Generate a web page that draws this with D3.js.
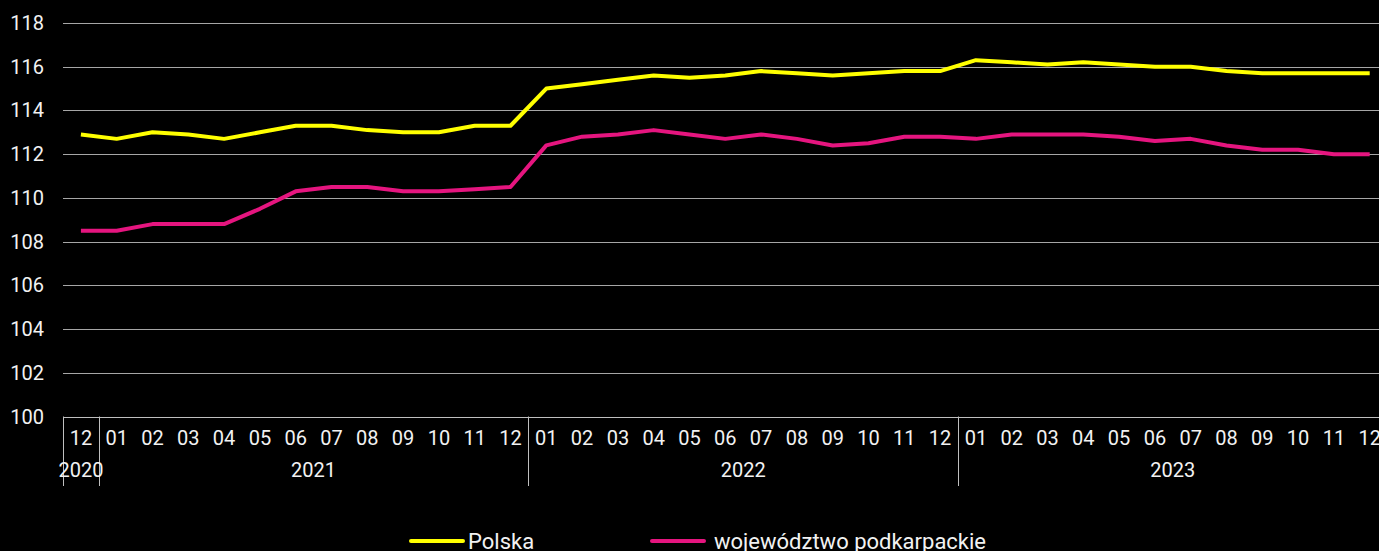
<!DOCTYPE html>
<html>
<head>
<meta charset="utf-8">
<script src="https://cdn.jsdelivr.net/npm/d3@7"></script>
<style>
  body { margin: 0; background: #000; }
  svg { display: block; }
  text { font-family: Roboto, "Noto Sans", sans-serif; fill: #f2f2f2; }
</style>
</head>
<body>
<svg id="chart" width="1379" height="551"></svg>
<script>
var months = ["12","01","02","03","04","05","06","07","08","09","10","11","12",
  "01","02","03","04","05","06","07","08","09","10","11","12",
  "01","02","03","04","05","06","07","08","09","10","11","12"];
var yearLabels = ["2020", "2021", "2022", "2023"];
var yearStarts = [0, 1, 13, 25];
var yearCounts = [1, 12, 12, 12];
var yTicks = [100, 102, 104, 106, 108, 110, 112, 114, 116, 118];

var polska = [112.9, 112.7, 113.0, 112.9, 112.7, 113.0, 113.3, 113.3, 113.1, 113.0, 113.0, 113.3, 113.3,
  115.0, 115.2, 115.4, 115.6, 115.5, 115.6, 115.8, 115.7, 115.6, 115.7, 115.8, 115.8,
  116.3, 116.2, 116.1, 116.2, 116.1, 116.0, 116.0, 115.8, 115.7, 115.7, 115.7, 115.7];
var podkarpackie = [108.5, 108.5, 108.8, 108.8, 108.8, 109.5, 110.3, 110.5, 110.5, 110.3, 110.3, 110.4, 110.5,
  112.4, 112.8, 112.9, 113.1, 112.9, 112.7, 112.9, 112.7, 112.4, 112.5, 112.8, 112.8,
  112.7, 112.9, 112.9, 112.9, 112.8, 112.6, 112.7, 112.4, 112.2, 112.2, 112.0, 112.0];

var seriesNames = ["Polska", "województwo podkarpackie"];
var seriesColors = ["#ffff00", "#e5157f"];

var svg = d3.select("#chart");
var left = 63, bandW = 35.8;
var plotTop = 23, plotBottom = 416.5;
var fontSize = 20;

var xScale = d3.scaleBand()
  .domain(d3.range(months.length))
  .range([left, left + bandW * months.length])
  .padding(0);

var yScale = d3.scaleLinear()
  .domain([100, 118])
  .range([plotBottom, plotTop]);

svg.append("rect")
  .attr("width", 1379)
  .attr("height", 551)
  .attr("fill", "#000");

// gridlines
svg.append("g")
  .selectAll("line")
  .data(yTicks.slice(1))
  .enter()
  .append("line")
    .attr("x1", left)
    .attr("x2", 1379)
    .attr("y1", function(d){ return Math.round(yScale(d)) + 0.5; })
    .attr("y2", function(d){ return Math.round(yScale(d)) + 0.5; })
    .attr("stroke", "#a6a6a6")
    .attr("stroke-width", 1);

// y labels
svg.append("g")
  .selectAll("text")
  .data(yTicks)
  .enter()
  .append("text")
    .attr("x", 44)
    .attr("y", function(d){ return yScale(d); })
    .attr("text-anchor", "end")
    .attr("dominant-baseline", "central")
    .attr("font-size", fontSize)
    .text(function(d){ return d; });

// x axis line
svg.append("line")
  .attr("x1", left)
  .attr("x2", 1379)
  .attr("y1", Math.round(plotBottom) + 0.5)
  .attr("y2", Math.round(plotBottom) + 0.5)
  .attr("stroke", "#bfbfbf")
  .attr("stroke-width", 1);

// year separators
var sepIdx = yearStarts.concat([months.length]);
svg.append("g")
  .selectAll("line")
  .data(sepIdx)
  .enter()
  .append("line")
    .attr("x1", function(d){ return Math.round(xScale(d) || left + d * bandW) + 0.5; })
    .attr("x2", function(d){ return Math.round(xScale(d) || left + d * bandW) + 0.5; })
    .attr("y1", plotBottom)
    .attr("y2", 486)
    .attr("stroke", "#bfbfbf")
    .attr("stroke-width", 1);

// month labels
svg.append("g")
  .selectAll("text")
  .data(months)
  .enter()
  .append("text")
    .attr("x", function(d, i){ return xScale(i) + xScale.bandwidth() / 2; })
    .attr("y", 438)
    .attr("text-anchor", "middle")
    .attr("dominant-baseline", "central")
    .attr("font-size", fontSize)
    .text(function(d){ return d; });

// year labels
svg.append("g")
  .selectAll("text")
  .data(yearLabels)
  .enter()
  .append("text")
    .attr("x", function(d, i){
      return xScale(yearStarts[i]) + yearCounts[i] * xScale.bandwidth() / 2;
    })
    .attr("y", 470)
    .attr("text-anchor", "middle")
    .attr("dominant-baseline", "central")
    .attr("font-size", fontSize)
    .text(function(d){ return d; });

// lines
var line = d3.line()
  .x(function(d, i){ return xScale(i) + xScale.bandwidth() / 2; })
  .y(function(d){ return yScale(d); });

[polska, podkarpackie].forEach(function(values, k){
  svg.append("path")
    .datum(values)
    .attr("d", line)
    .attr("fill", "none")
    .attr("stroke", seriesColors[k])
    .attr("stroke-width", 4)
    .attr("stroke-linejoin", "round");
});

// legend
var legendX = [411, 652];
var legendTextX = [468, 714];
seriesNames.forEach(function(name, k){
  svg.append("line")
    .attr("x1", legendX[k])
    .attr("x2", legendX[k] + 52)
    .attr("y1", 541)
    .attr("y2", 541)
    .attr("stroke", seriesColors[k])
    .attr("stroke-width", 4)
    .attr("stroke-linecap", "round");
  svg.append("text")
    .attr("x", legendTextX[k])
    .attr("y", 541)
    .attr("dominant-baseline", "central")
    .attr("font-size", 22)
    .text(name);
});
</script>
</body>
</html>
